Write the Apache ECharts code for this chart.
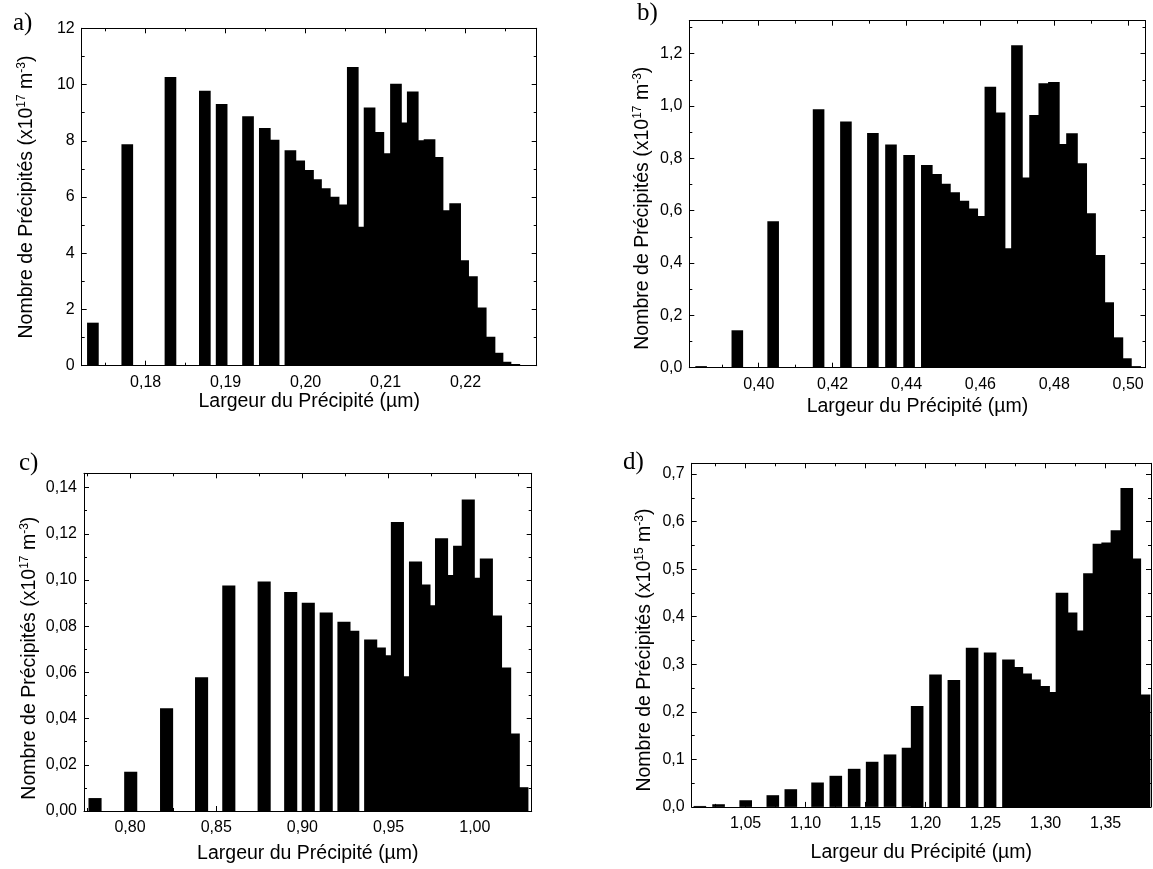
<!DOCTYPE html>
<html>
<head>
<meta charset="utf-8">
<script src="https://cdn.jsdelivr.net/npm/echarts@6/dist/echarts.min.js"></script>
<style>
html,body{margin:0;padding:0;background:#fff;}
#chart{width:1153px;height:869px;}
</style>
</head>
<body>
<div id="chart"></div>
<script>
// ---------------- DATA ----------------
// Panel a : bar centres (µm) and heights (x10^17 m^-3)
const xA = [0.1734, 0.1777, 0.1831, 0.1874, 0.1895, 0.1928, 0.1949, 0.1960, 0.1981, 0.1992,
            0.2003, 0.2013, 0.2024, 0.2035, 0.2047, 0.2059, 0.2070, 0.2080, 0.2091, 0.2102,
            0.2113, 0.2123, 0.2134, 0.2144, 0.2155, 0.2165, 0.2176, 0.2187, 0.2197, 0.2208,
            0.2219, 0.2230, 0.2240, 0.2250, 0.2261];
const yA = [1.53, 7.88, 10.27, 9.78, 9.31, 8.87, 8.45, 8.04, 7.66, 7.30,
            6.96, 6.63, 6.31, 6.01, 5.73, 10.62, 4.94, 9.18, 8.31, 7.56,
            10.03, 8.65, 9.75, 8.02, 8.05, 7.42, 5.53, 5.78, 3.75, 3.18,
            2.07, 1.03, 0.46, 0.14, 0.06];

// Panel b
const xB = [0.3844, 0.3942, 0.4039, 0.4162, 0.4236, 0.4309, 0.4358, 0.4407, 0.4455, 0.4480,
            0.4504, 0.4529, 0.4554, 0.4578, 0.4604, 0.4627, 0.4652, 0.4676, 0.4699, 0.4724,
            0.4748, 0.4773, 0.4799, 0.4824, 0.4848, 0.4873, 0.4897, 0.4922, 0.4946, 0.4971,
            0.4994, 0.5019];
const yB = [0.006, 0.143, 0.560, 0.988, 0.941, 0.897, 0.853, 0.813, 0.775, 0.740,
            0.703, 0.670, 0.638, 0.608, 0.580, 1.074, 0.975, 0.456, 1.232, 0.727,
            0.966, 1.087, 1.092, 0.855, 0.896, 0.781, 0.590, 0.431, 0.250, 0.116,
            0.036, 0.006];

// Panel c
const xC = [0.7797, 0.8004, 0.8212, 0.8415, 0.8573, 0.8778, 0.8932, 0.9034, 0.9138, 0.9241,
            0.9292, 0.9396, 0.9446, 0.9499, 0.9551, 0.9603, 0.9656, 0.9705, 0.9756, 0.9807,
            0.9860, 0.9912, 0.9962, 1.0014, 1.0067, 1.0120, 1.0173, 1.0223, 1.0273];
const yC = [0.0056, 0.0170, 0.0445, 0.0579, 0.0976, 0.0994, 0.0948, 0.0902, 0.0859, 0.0819,
            0.0780, 0.0743, 0.0708, 0.0674, 0.1251, 0.0583, 0.1080, 0.0981, 0.0891, 0.1181,
            0.1022, 0.1148, 0.1349, 0.1010, 0.1093, 0.0846, 0.0621, 0.0336, 0.0103];

// Panel d : heights in x10^15 m^-3
const xD = [1.0118, 1.0274, 1.0500, 1.0726, 1.0876, 1.1099, 1.1251, 1.1404, 1.1554, 1.1703,
            1.1853, 1.1929, 1.2082, 1.2235, 1.2387, 1.2537, 1.2690, 1.2760, 1.2833, 1.2907,
            1.2983, 1.3057, 1.3136, 1.3212, 1.3288, 1.3365, 1.3444, 1.3517, 1.3594, 1.3676,
            1.3743, 1.3820];
const yD = [0.002, 0.0056, 0.014, 0.0246, 0.0372, 0.0513, 0.0654, 0.0801, 0.0949, 0.1103,
            0.1244, 0.2122, 0.2783, 0.2670, 0.3345, 0.3247, 0.3099, 0.2944, 0.2804, 0.2677,
            0.2544, 0.2417, 0.4505, 0.4090, 0.3710, 0.4912, 0.5531, 0.5559, 0.5819, 0.6704,
            0.5221, 0.2361];

// Tick values
const xTicksA = [0.18, 0.19, 0.20, 0.21, 0.22];
const xMinorA = [0.175, 0.185, 0.195, 0.205, 0.215, 0.225];
const yTicksA = [0, 2, 4, 6, 8, 10, 12];
const yMinorA = [1, 3, 5, 7, 9, 11];

const xTicksB = [0.40, 0.42, 0.44, 0.46, 0.48, 0.50];
const xMinorB = [0.39, 0.41, 0.43, 0.45, 0.47, 0.49];
const yTicksB = [0, 0.2, 0.4, 0.6, 0.8, 1.0, 1.2];
const yMinorB = [0.1, 0.3, 0.5, 0.7, 0.9, 1.1, 1.3];

const xTicksC = [0.80, 0.85, 0.90, 0.95, 1.00];
const xMinorC = [0.775, 0.825, 0.875, 0.925, 0.975, 1.025];
const yTicksC = [0, 0.02, 0.04, 0.06, 0.08, 0.10, 0.12, 0.14];
const yMinorC = [0.01, 0.03, 0.05, 0.07, 0.09, 0.11, 0.13];

const xTicksD = [1.05, 1.10, 1.15, 1.20, 1.25, 1.30, 1.35];
const xMinorD = [1.025, 1.075, 1.125, 1.175, 1.225, 1.275, 1.325, 1.375];
const yTicksD = [0, 0.1, 0.2, 0.3, 0.4, 0.5, 0.6, 0.7];
const yMinorD = [0.05, 0.15, 0.25, 0.35, 0.45, 0.55, 0.65];

// Texts
const letters = ['a)', 'b)', 'c)', 'd)'];
const xTitle = 'Largeur du Précipité (µm)';
const yTitle17 = 'Nombre de Précipités (x10{sup|17} m{sup|-3})';
const yTitle15 = 'Nombre de Précipités (x10{sup|15} m{sup|-3})';

// ---------------- LAYOUT ----------------
const FONT = '"Liberation Sans", Arial, Helvetica, sans-serif';
const SERIF = '"Liberation Serif", "Times New Roman", serif';
const MAJ = 5, MIN = 3;

const panels = [
  { grid: { left: 81.7, top: 28.3, width: 455, height: 337.4 },
    xRange: [0.172, 0.2289], yRange: [0, 12], binWidth: 0.00146,
    x: xA, y: yA, xTicks: xTicksA, xMinor: xMinorA, yTicks: yTicksA, yMinor: yMinorA,
    xDec: 2, yDec: 0, yTitle: yTitle17, letter: letters[0],
    yNameGap: 44, yShift: 0, xNameGap: 25, letterPos: [13, 11] },
  { grid: { left: 689.3, top: 20.7, width: 456.2, height: 347 },
    xRange: [0.3812, 0.5047], yRange: [0, 1.326], binWidth: 0.00314,
    x: xB, y: yB, xTicks: xTicksB, xMinor: xMinorB, yTicks: yTicksB, yMinor: yMinorB,
    xDec: 2, yDec: 1, yTitle: yTitle17, letter: letters[1],
    yNameGap: 36, yShift: 14, xNameGap: 28, letterPos: [637, 1] },
  { grid: { left: 84, top: 473.3, width: 447.7, height: 337.7 },
    xRange: [0.7733, 1.033], yRange: [0, 0.1462], binWidth: 0.0076,
    x: xC, y: yC, xTicks: xTicksC, xMinor: xMinorC, yTicks: yTicksC, yMinor: yMinorC,
    xDec: 2, yDec: 2, yTitle: yTitle17, letter: letters[2],
    yNameGap: 43, yShift: 16, xNameGap: 32, letterPos: [19, 451] },
  { grid: { left: 691.7, top: 463.3, width: 459.3, height: 343.6 },
    xRange: [1.005, 1.3878], yRange: [0, 0.7225], binWidth: 0.0105,
    x: xD, y: yD, xTicks: xTicksD, xMinor: xMinorD, yTicks: yTicksD, yMinor: yMinorD,
    xDec: 2, yDec: 1, yTitle: yTitle15, letter: letters[3],
    yNameGap: 36, yShift: 15, xNameGap: 35, letterPos: [623, 450] }
];

function makeRender(binWidth) {
  return function (params, api) {
    const xc = api.value(0), v = api.value(1);
    const tl = api.coord([xc - binWidth / 2, v]);
    const br = api.coord([xc + binWidth / 2, 0]);
    const cs = params.coordSys;
    const shape = echarts.graphic.clipRectByRect(
      { x: tl[0], y: tl[1], width: br[0] - tl[0], height: br[1] - tl[1] },
      { x: cs.x, y: cs.y, width: cs.width, height: cs.height });
    if (!shape) return null;
    return { type: 'rect', shape: shape, style: { fill: '#000' } };
  };
}

const lineStyle = { color: '#000', width: 1 };
const option = {
  animation: false, backgroundColor: '#fff',
  title: [], grid: [], xAxis: [], yAxis: [], series: []
};

panels.forEach(function (p, i) {
  option.grid.push(Object.assign({ containLabel: false }, p.grid));
  const fmtX = function (v) { return Number(v).toFixed(p.xDec).replace('.', ','); };
  const fmtY = function (v) { return Number(v).toFixed(p.yDec).replace('.', ','); };

  function baseAxis(dimRange, position) {
    return { type: 'value', gridIndex: i, min: dimRange[0], max: dimRange[1], position: position,
      splitLine: { show: false }, axisLine: { show: false, onZero: false },
      axisLabel: { show: false }, axisTick: { show: false } };
  }
  function tickAxis(dimRange, position, values, len, withLine) {
    const a = baseAxis(dimRange, position);
    a.axisLine = { show: !!withLine, onZero: false, lineStyle: lineStyle };
    a.axisTick = { show: true, inside: true, length: len, customValues: values, lineStyle: lineStyle };
    return a;
  }

  // X axes
  const xMain = tickAxis(p.xRange, 'bottom', p.xTicks, MAJ, true);
  xMain.axisLabel = { show: true, customValues: p.xTicks, formatter: fmtX, margin: 8.5,
    fontSize: 16, fontFamily: FONT, color: '#000' };
  xMain.name = xTitle;
  xMain.nameLocation = 'middle';
  xMain.nameGap = p.xNameGap;
  xMain.nameTextStyle = { fontSize: 19.5, fontFamily: FONT, color: '#000', lineHeight: 22 };
  option.xAxis.push(xMain);
  const mainXIndex = option.xAxis.length - 1;
  option.xAxis.push(tickAxis(p.xRange, 'bottom', p.xMinor, MIN, false));
  option.xAxis.push(tickAxis(p.xRange, 'top', p.xTicks, MAJ, true));
  option.xAxis.push(tickAxis(p.xRange, 'top', p.xMinor, MIN, false));

  // Y axes
  const yMain = tickAxis(p.yRange, 'left', p.yTicks, MAJ, true);
  yMain.axisLabel = { show: true, customValues: p.yTicks, formatter: fmtY, margin: 7,
    fontSize: 16, fontFamily: FONT, color: '#000' };
  yMain.name = p.yTitle;
  yMain.nameLocation = 'middle';
  yMain.nameGap = p.yNameGap;
  yMain.nameTextStyle = { fontSize: 19.5, fontFamily: FONT, color: '#000', lineHeight: 22,
    padding: [0, p.yShift * 2, 0, 0],
    rich: { sup: { fontSize: 12, fontFamily: FONT, color: '#000', verticalAlign: 'top', lineHeight: 12 } } };
  option.yAxis.push(yMain);
  const mainYIndex = option.yAxis.length - 1;
  option.yAxis.push(tickAxis(p.yRange, 'left', p.yMinor, MIN, false));
  option.yAxis.push(tickAxis(p.yRange, 'right', p.yTicks, MAJ, true));
  option.yAxis.push(tickAxis(p.yRange, 'right', p.yMinor, MIN, false));

  option.series.push({
    type: 'custom', xAxisIndex: mainXIndex, yAxisIndex: mainYIndex, silent: true,
    renderItem: makeRender(p.binWidth),
    data: p.x.map(function (x, k) { return [x, p.y[k]]; })
  });

  option.title.push({ text: p.letter, left: p.letterPos[0], top: p.letterPos[1], padding: 0,
    textStyle: { fontFamily: SERIF, fontSize: 25, fontWeight: 'normal', color: '#000' } });
});

const chart = echarts.init(document.getElementById('chart'), null, { renderer: 'canvas', width: 1153, height: 869 });
chart.setOption(option);
</script>
</body>
</html>
